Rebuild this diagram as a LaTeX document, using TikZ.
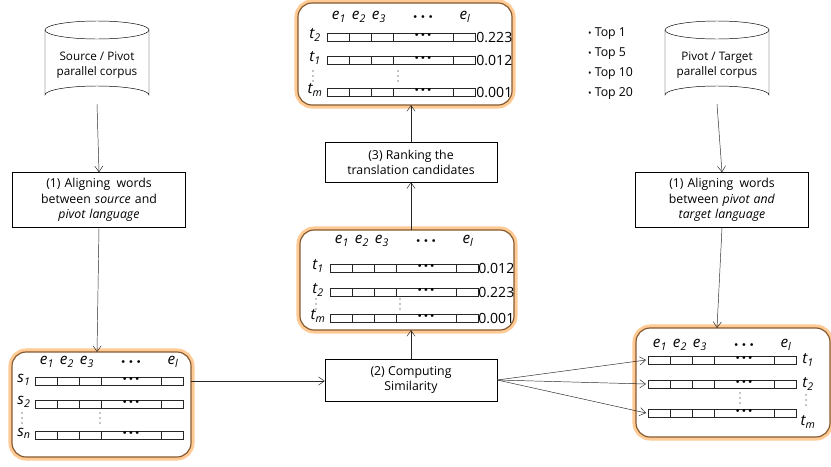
\documentclass[tikz,border=0pt]{standalone}
\usepackage{fontspec}
\setmainfont{Open Sans}
\usetikzlibrary{arrows.meta}
\begin{document}
\begin{tikzpicture}[x=0.03cm,y=-0.03cm,
  box/.style={draw,fill=white,align=center,font=\fontsize{10.5}{13}\selectfont,inner sep=2pt},
  arr/.style={-{Straight Barb[length=5pt,width=7pt]},black!85},
  glow/.style={rounded corners=12pt,draw=brown!70!black,line width=1pt,fill=white,
     preaction={draw=orange!70,line width=6pt,opacity=0.6}},
  lab/.style={font=\itshape\fontsize{13}{13}\selectfont,inner sep=0pt},
  num/.style={font=\fontsize{12}{12}\selectfont,anchor=west,inner sep=1pt}]
\useasboundingbox (0,0) rectangle (831,466);
\newcommand\mrow[2]{%
  \draw[black!85] (#1,#2-4) rectangle (#1+148,#2+4);
  \foreach \o in {22,44,66,126} \draw[black!85] (#1+\o,#2-4) -- (#1+\o,#2+4);
  \node[font=\tiny,inner sep=0pt] at (#1+96,#2-2) {$\bullet\bullet\bullet$};}
\newcommand\mhead[2]{%
  \node[lab] at (#1+12,#2) {e\textsubscript{1}};
  \node[lab] at (#1+32,#2) {e\textsubscript{2}};
  \node[lab] at (#1+52,#2) {e\textsubscript{3}};
  \node[font=\tiny,inner sep=0pt] at (#1+96,#2) {$\bullet\,\bullet\,\bullet$};
  \node[lab] at (#1+138,#2) {e\textsubscript{l}};}
\newcommand\vdt[2]{\foreach \d in {-5,0,5} \fill (#1,#2+\d) circle[radius=0.6pt];}
% cylinders
\foreach \cx/\t [count=\i] in {97/{Source / Pivot\\parallel corpus},717/{Pivot / Target\\parallel corpus}}{
  \draw[fill=white] (\cx-52,30) -- (\cx-52,95) arc[start angle=180,end angle=360,x radius=52,y radius=9] -- (\cx+52,30);
  \draw (\cx,30) ellipse [x radius=52,y radius=9];
  \node[align=center,font=\fontsize{10}{13}\selectfont] (cyl\i) at (\cx,65) {\t};
  \coordinate (cb\i) at (\cx,104);
}
\node[box,text width=168*0.03cm,minimum height=55*0.03cm] (b1l) at (99,200) {(1) Aligning\enspace words\\between \textit{source} and\\\textit{pivot language}};
\node[box,text width=168*0.03cm,minimum height=55*0.03cm] (b1r) at (722,200) {(1) Aligning\enspace words\\between \textit{pivot and}\\\textit{target language}};
\node[box,minimum width=172*0.03cm,minimum height=42*0.03cm] (b2) at (411,380) {(2) Computing\\Similarity};
\node[box,minimum width=172*0.03cm,minimum height=40*0.03cm] (b3) at (411,162) {(3) Ranking the\\translation candidates};
% matrices
\draw[glow] (12,352) rectangle (191,457); \coordinate (mL) at (97,352); \coordinate (mLr) at (191,381);
\mhead{35}{362}\mrow{35}{381}\mrow{35}{404}\mrow{35}{435}
\node[lab] at (24,380) {s\textsubscript{1}};\node[lab] at (24,402) {s\textsubscript{2}};\node[lab] at (24,433) {s\textsubscript{n}};
\vdt{22}{418}\vdt{100}{418}
\draw[glow] (300,230) rectangle (514,330); \coordinate (mMt) at (411,230); \coordinate (mMb) at (411,330);
\mhead{330}{241}\mrow{330}{268}\mrow{330}{292}\mrow{330}{318}
\node[lab] at (318,266) {t\textsubscript{1}};\node[lab] at (318,290) {t\textsubscript{2}};\node[lab] at (318,316) {t\textsubscript{m}};
\vdt{316}{304}\vdt{400}{304}
\node[num] at (477,268) {0.012};\node[num] at (477,292) {0.223};\node[num] at (477,318) {0.001};
\draw[glow] (298,3) rectangle (512,105); \coordinate (mT) at (411,105);
\mhead{327}{17}\mrow{327}{37}\mrow{327}{60}\mrow{327}{92}
\node[lab] at (315,35) {t\textsubscript{2}};\node[lab] at (315,58) {t\textsubscript{1}};\node[lab] at (315,90) {t\textsubscript{m}};
\vdt{313}{76}\vdt{398}{76}
\node[num] at (475,37) {0.223};\node[num] at (475,60) {0.012};\node[num] at (475,92) {0.001};
\node[align=left,anchor=north west,font=\fontsize{10.5}{17}\selectfont] (top) at (584,24) {{\footnotesize\textbullet} Top 1\\{\footnotesize\textbullet} Top 5\\{\footnotesize\textbullet} Top 10\\{\footnotesize\textbullet} Top 20};
\draw[glow] (636,328) rectangle (830,437); \coordinate (mR) at (717,328);
\mhead{648}{345}\mrow{648}{360}\mrow{648}{384}\mrow{648}{413}
\node[lab] at (808,360) {t\textsubscript{1}};\node[lab] at (808,384) {t\textsubscript{2}};\node[lab] at (808,422) {t\textsubscript{m}};
\vdt{806}{400}\vdt{740}{398}
\coordinate (r1) at (646,360);\coordinate (r2) at (646,384);\coordinate (r3) at (646,413);
% arrows
\draw[arr] (cb1) -- (b1l.north);
\draw[arr] (b1l.south) -- (mL);
\draw[arr] (cb2) -- (b1r.north);
\draw[arr] (b1r.south) -- (mR);
\draw[arr] (mLr) -- (b2.west|-mLr);
\draw[arr] (b2.north) -- (mMb);
\draw[arr] (mMt) -- (b3.south);
\draw[arr] (b3.north) -- (mT);
\foreach \r in {r1,r2,r3} \draw[arr] (b2.east) -- (\r);
\end{tikzpicture}
\end{document}
